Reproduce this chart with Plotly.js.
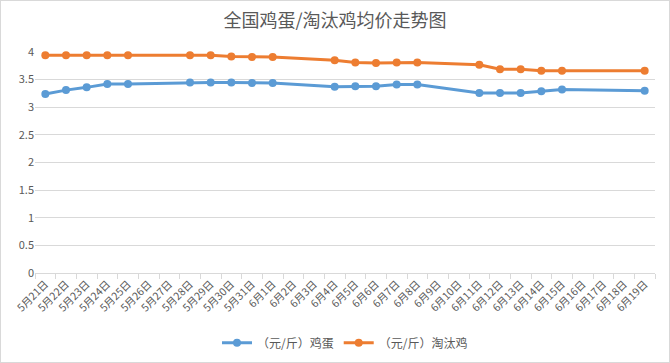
<!DOCTYPE html>
<html><head><meta charset="utf-8">
<script src="https://cdn.plot.ly/plotly-3.0.1.min.js"></script>
<style>body{margin:0;padding:0;background:#fff}#chart{width:668px;height:361px;border:1px solid #d9d9d9}</style>
</head><body><div id="chart"></div>
<script>
var categories = ["5月21日","5月22日","5月23日","5月24日","5月25日","5月26日","5月27日","5月28日","5月29日","5月30日","5月31日","6月1日","6月2日","6月3日","6月4日","6月5日","6月6日","6月7日","6月8日","6月9日","6月10日","6月11日","6月12日","6月13日","6月14日","6月15日","6月16日","6月17日","6月18日","6月19日"];
var eggPrice = [3.24,3.31,3.36,3.42,3.42,null,null,3.45,3.45,3.45,3.44,3.44,null,null,3.37,3.38,3.38,3.41,3.41,null,null,3.26,3.26,3.26,3.29,3.32,null,null,null,3.30];
var henPrice = [3.94,3.94,3.94,3.94,3.94,null,null,3.94,3.94,3.92,3.91,3.91,null,null,3.85,3.81,3.80,3.81,3.81,null,null,3.77,3.69,3.69,3.66,3.66,null,null,null,3.66];
var seriesNames = ["（元/斤）鸡蛋","（元/斤）淘汰鸡"];
var yTicks = [0,0.5,1,1.5,2,2.5,3,3.5,4];

var font = "'Noto Sans CJK SC', 'Noto Sans', sans-serif";
var traces = [
  {x: categories, y: eggPrice, name: seriesNames[0], type: 'scatter', mode: 'lines+markers', connectgaps: true,
   line: {color: '#5B9BD5', width: 3}, marker: {color: '#5B9BD5', size: 8}, cliponaxis: false},
  {x: categories, y: henPrice, name: seriesNames[1], type: 'scatter', mode: 'lines+markers', connectgaps: true,
   line: {color: '#ED7D31', width: 3}, marker: {color: '#ED7D31', size: 8}, cliponaxis: false}
];
var layout = {
  width: 668, height: 361,
  margin: {l: 34, r: 14, t: 51, b: 89},
  paper_bgcolor: '#fff', plot_bgcolor: '#fff',
  title: {text: '全国鸡蛋/淘汰鸡均价走势图', x: 0.5, xanchor: 'center', y: 0.945, yanchor: 'middle',
          font: {family: font, size: 18, color: '#595959'}},
  xaxis: {type: 'category', range: [-0.5, 29.5], tickson: 'boundaries', ticks: 'outside', ticklen: 5,
          tickcolor: '#d9d9d9', showline: true, linecolor: '#d9d9d9', linewidth: 1, showgrid: false,
          tickangle: -45, tickfont: {family: font, size: 10.5, color: '#595959'}, automargin: false},
  yaxis: {range: [0, 4], tickvals: yTicks, ticktext: yTicks.map(String), showgrid: true, gridcolor: '#d9d9d9',
          zeroline: false, showline: false, ticks: '', tickfont: {family: font, size: 11, color: '#595959'},
          automargin: false},
  showlegend: true,
  legend: {orientation: 'h', x: 0.5, xanchor: 'center', yref: 'container', y: 0.053, yanchor: 'middle',
           font: {family: font, size: 12, color: '#595959'}, itemwidth: 30, tracegroupgap: 0}
};
Plotly.newPlot('chart', traces, layout, {displayModeBar: false, staticPlot: true});
</script></body></html>
